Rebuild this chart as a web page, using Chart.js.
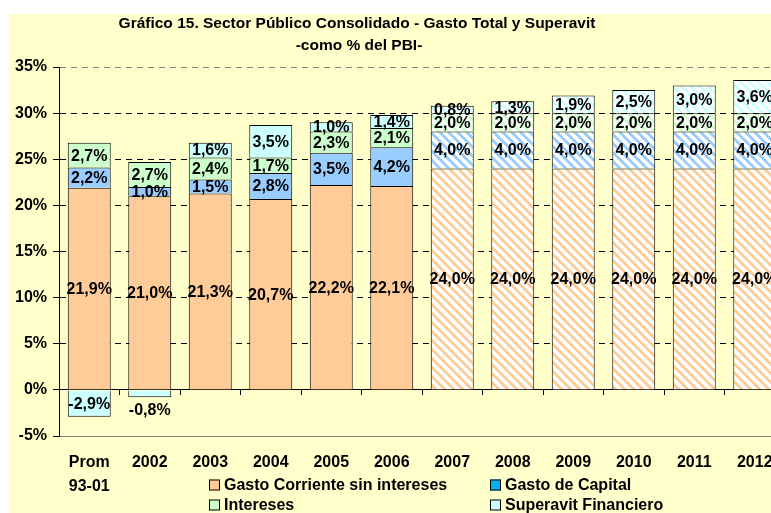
<!DOCTYPE html>
<html>
<head>
<meta charset="utf-8">
<script src="https://cdn.jsdelivr.net/npm/chart.js@4.4.0/dist/chart.umd.min.js"></script>
<style>
  html, body { margin: 0; padding: 0; overflow: hidden; background: #fff; }
  #wrap { position: absolute; left: 0; top: 0; width: 800px; height: 513px; }
</style>
</head>
<body>
<div id="wrap"><canvas id="cvs" width="800" height="513"></canvas></div>
<script>
//-------------------------------------------------------------------
// data (% del PBI)
//-------------------------------------------------------------------
const categories = [['Prom', '93-01'], '2002', '2003', '2004', '2005', '2006',
                    '2007', '2008', '2009', '2010', '2011', '2012'];

const gastoCorriente = [21.9, 21.0, 21.3, 20.7, 22.2, 22.1, 24.0, 24.0, 24.0, 24.0, 24.0, 24.0];
const gastoCapital   = [2.2, 1.0, 1.5, 2.8, 3.5, 4.2, 4.0, 4.0, 4.0, 4.0, 4.0, 4.0];
const intereses      = [2.7, 2.7, 2.4, 1.7, 2.3, 2.1, 2.0, 2.0, 2.0, 2.0, 2.0, 2.0];
const superavit      = [-2.9, -0.8, 1.6, 3.5, 1.0, 1.4, 0.8, 1.3, 1.9, 2.5, 3.0, 3.6];

const seriesNames = ['Gasto Corriente sin intereses', 'Gasto de Capital', 'Intereses', 'Superavit Financiero'];

const yMin = -5;
const yMax = 35;
const yStep = 5;

// from 2007 on the bars are projections (hatched)
const firstProjection = categories.indexOf('2007');

//-------------------------------------------------------------------
// styling
//-------------------------------------------------------------------
const FONT = '"Liberation Sans", Arial, sans-serif';
const BG_YELLOW = '#FFFFCC';
const barColors = ['#FFCC99', '#99CCFF', '#CCFFCC', '#CCFFFF'];
const legendColors = ['#FFCC99', '#00B0F0', '#CCFFCC', '#CCFFFF'];

function makeHatch(color) {
  const size = 9;
  const c = document.createElement('canvas');
  c.width = size;
  c.height = size;
  const g = c.getContext('2d');
  g.fillStyle = '#fff';
  g.fillRect(0, 0, size, size);
  g.fillStyle = color;
  for (let y = 0; y < size; y++) {
    for (let x = 0; x < size; x++) {
      if ((((x - y) % size) + size) % size < 4) g.fillRect(x, y, 1, 1);
    }
  }
  return g.createPattern(c, 'repeat');
}

const hatches = barColors.map(makeHatch);

function fmt(v) {
  return v.toFixed(1).replace('.', ',') + '%';
}

//-------------------------------------------------------------------
// plugins
//-------------------------------------------------------------------
const background = {
  id: 'background',
  beforeDraw(chart) {
    const ctx = chart.ctx;
    ctx.save();
    ctx.fillStyle = '#fff';
    ctx.fillRect(0, 0, chart.width, chart.height);
    ctx.fillStyle = BG_YELLOW;
    ctx.fillRect(9, 14, chart.width - 9, chart.height - 14);

    ctx.fillStyle = '#000';
    ctx.textAlign = 'center';
    ctx.textBaseline = 'middle';
    ctx.font = 'bold 15.5px ' + FONT;
    ctx.fillText('Gráfico 15. Sector Público Consolidado - Gasto Total y Superavit', 357, 24);
    ctx.fillText('-como % del PBI-', 359, 46);
    ctx.restore();
  }
};

const barLabels = {
  id: 'barLabels',
  afterDatasetsDraw(chart) {
    const ctx = chart.ctx;
    ctx.save();
    ctx.font = 'bold 16px ' + FONT;
    ctx.fillStyle = '#000';
    ctx.textAlign = 'center';
    ctx.textBaseline = 'middle';
    chart.data.datasets.forEach((ds, di) => {
      const meta = chart.getDatasetMeta(di);
      meta.data.forEach((bar, i) => {
        const v = ds.data[i];
        let y = (bar.y + bar.base) / 2;
        // tiny negative bar: label goes under it
        if (v < 0 && Math.abs(bar.base - bar.y) < 14) y = bar.y + 12;
        ctx.fillText(fmt(v), bar.x, y + 1);
      });
    });
    ctx.restore();
  }
};

const legendBox = {
  id: 'legendBox',
  afterDraw(chart) {
    const ctx = chart.ctx;
    const cols = [209, 490];
    const rows = [485, 505];
    ctx.save();
    ctx.font = 'bold 16px ' + FONT;
    ctx.textAlign = 'left';
    ctx.textBaseline = 'middle';
    seriesNames.forEach((name, i) => {
      const x = cols[i % 2];
      const y = rows[Math.floor(i / 2)];
      ctx.fillStyle = legendColors[i];
      ctx.fillRect(x, y - 5.5, 11, 11);
      ctx.strokeStyle = '#000';
      ctx.lineWidth = 1;
      ctx.strokeRect(x + 0.5, y - 5, 10, 10);
      ctx.fillStyle = '#000';
      ctx.fillText(name, x + 15, y + 1);
    });
    ctx.restore();
  }
};

//-------------------------------------------------------------------
// chart
//-------------------------------------------------------------------
function makeDataset(label, data, idx) {
  return {
    label: label,
    data: data,
    backgroundColor: (c) => (c.dataIndex >= firstProjection ? hatches[idx] : barColors[idx]),
    borderColor: '#000',
    borderWidth: 1,
    barPercentage: 0.71,
    categoryPercentage: 1.0
  };
}

function gridColor(c) {
  if (!c.tick) return '#000';
  if (c.tick.value === yMin || c.tick.value === yMax) return '#808080';
  return '#000';
}

function gridDash(c) {
  if (!c.tick) return [];
  if (c.tick.value === 0 || c.tick.value === yMin) return [];
  return [6, 5];
}

Chart.defaults.font.family = FONT;
Chart.defaults.font.size = 16;
Chart.defaults.font.weight = 'bold';
Chart.defaults.color = '#000';

new Chart(document.getElementById('cvs').getContext('2d'), {
  type: 'bar',
  data: {
    labels: categories,
    datasets: [
      makeDataset(seriesNames[0], gastoCorriente, 0),
      makeDataset(seriesNames[1], gastoCapital, 1),
      makeDataset(seriesNames[2], intereses, 2),
      makeDataset(seriesNames[3], superavit, 3)
    ]
  },
  options: {
    responsive: false,
    animation: false,
    devicePixelRatio: 1,
    layout: { padding: { left: 0, top: 67, right: 15, bottom: 0 } },
    plugins: {
      legend: { display: false },
      title: { display: false },
      tooltip: { enabled: false }
    },
    scales: {
      x: {
        stacked: true,
        position: { y: 0 },
        ticks: { display: false },
        grid: { drawOnChartArea: false, drawTicks: true, tickLength: 5, color: '#000' },
        border: { display: true, color: '#000', width: 1 }
      },
      x2: {
        type: 'category',
        position: 'bottom',
        grid: { display: false, drawTicks: false },
        border: { display: false },
        ticks: { autoSkip: false, maxRotation: 0, padding: 15, font: { size: 16, weight: 'bold', lineHeight: 1.5 } },
        afterFit: (s) => { s.height = 77; }
      },
      y: {
        stacked: true,
        min: yMin,
        max: yMax,
        ticks: {
          stepSize: yStep,
          padding: 6,
          callback: (v) => v + '%',
          font: { size: 16, weight: 'bold' }
        },
        grid: { color: gridColor, tickColor: '#000', tickLength: 6, lineWidth: 1 },
        border: { display: true, color: '#000', width: 1, dash: gridDash },
        afterFit: (s) => { s.width = 59; }
      }
    }
  },
  plugins: [background, barLabels, legendBox]
});
</script>
</body>
</html>
